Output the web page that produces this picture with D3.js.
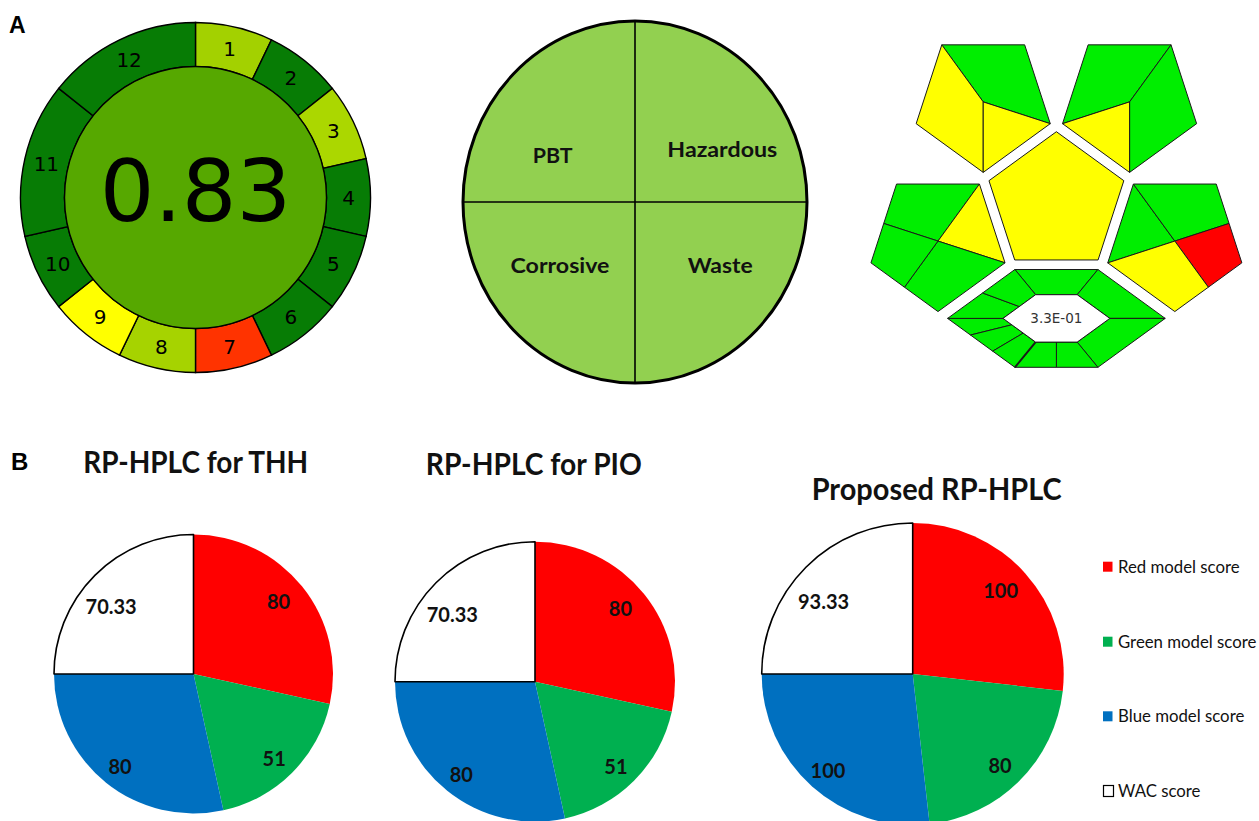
<!DOCTYPE html>
<html><head><meta charset="utf-8">
<script src="https://cdn.jsdelivr.net/npm/d3@7"></script>
<style>body{margin:0;background:#fff}svg{display:block}</style>
</head><body>
<svg id="fig" width="1259" height="821"></svg>
<script>
// ---------- AGREE pictogram ----------
const agreeCriteria = ["1","2","3","4","5","6","7","8","9","10","11","12"];
const agreeWeights  = [1,1,1,1,1,1,1,1,1,1,2,2];
const agreeColors   = ["#a3d100","#077c05","#abd700","#077c05","#077c05","#077c05",
                       "#ff3300","#a6d300","#ffff00","#077c05","#077c05","#077c05"];
const agreeScore = "0.83";
const agreeCenterColor = "#56a800";

// ---------- NEMI pictogram (quadrants: top-left, top-right, bottom-left, bottom-right) ----------
const nemiCriteria = ["PBT","Hazardous","Corrosive","Waste"];
const nemiColors   = ["#92d050","#92d050","#92d050","#92d050"];

// ---------- ComplexGAPI pictogram (g = green, y = yellow, r = red) ----------
const gapiTopLeft   = ["g","y","y"];
const gapiTopRight  = ["g","g","y"];
const gapiCenter    = ["y"];
const gapiLeft      = ["g","y","g","g"];
const gapiRight     = ["g","g","r","y"];
const gapiBottom    = ["g","g","g","g","g","g","g","g","g","g"];
const gapiScore     = "3.3E-01";
const gapiPalette   = {g:"#00ee00", y:"#ffff00", r:"#ff0000"};

// ---------- RGB model pies ----------
const methods    = ["RP-HPLC for THH","RP-HPLC for PIO","Proposed RP-HPLC"];
const redScore   = [80, 80, 100];
const greenScore = [51, 51, 80];
const blueScore  = [80, 80, 100];
const wacScore   = [70.33, 70.33, 93.33];
const legendLabels = ["Red model score","Green model score","Blue model score","WAC score"];
const pieColors    = ["#ff0000","#00b050","#0070c0","#ffffff"];

const svg = d3.select("#fig");
const rad = a => a*Math.PI/180;

// panel letters
svg.append("text").attr("x",9).attr("y",33).text("A")
  .attr("font-family","Liberation Sans, Arial, sans-serif").attr("font-weight","bold").attr("font-size",23);
svg.append("text").attr("x",11).attr("y",470).text("B")
  .attr("font-family","Liberation Sans, Arial, sans-serif").attr("font-weight","bold").attr("font-size",24);

// ---------- AGREE ----------
{
  const cx = 195.5, cy = 197.5, rIn = 131, rOut = 175;
  const g = svg.append("g").attr("transform",`translate(${cx},${cy})`);
  const pie = d3.pie().sort(null).value(d => d.w);
  const data = agreeCriteria.map((c,i) => ({c, w: agreeWeights[i], col: agreeColors[i]}));
  const arcs = pie(data);
  const arc = d3.arc().innerRadius(rIn).outerRadius(rOut);
  g.selectAll("path.seg").data(arcs).join("path").attr("class","seg")
    .attr("d", arc).attr("fill", d => d.data.col).attr("stroke","#000").attr("stroke-width",1.4);
  const lab = d3.arc().innerRadius((rIn+rOut)/2).outerRadius((rIn+rOut)/2);
  g.selectAll("text.seg").data(arcs).join("text").attr("class","seg")
    .attr("x", d => lab.centroid(d)[0]).attr("y", d => lab.centroid(d)[1])
    .attr("text-anchor","middle").attr("dy","0.36em")
    .attr("font-family","DejaVu Sans, sans-serif").attr("font-size",20)
    .text(d => d.data.c);
  g.append("circle").attr("r", rIn).attr("fill", agreeCenterColor).attr("stroke","#000").attr("stroke-width",1.4);
  g.append("text").attr("text-anchor","middle").attr("y",23)
    .attr("font-family","DejaVu Sans, sans-serif").attr("font-size",86).text(agreeScore);
}

// ---------- NEMI ----------
{
  const cx = 635, cy = 202, rx = 172, ry = 181;
  const g = svg.append("g");
  const clip = g.append("clipPath").attr("id","nemiClip");
  clip.append("ellipse").attr("cx",cx).attr("cy",cy).attr("rx",rx).attr("ry",ry);
  const quads = [[cx-rx,cy-ry],[cx,cy-ry],[cx-rx,cy],[cx,cy]];
  g.append("g").attr("clip-path","url(#nemiClip)").selectAll("rect").data(quads).join("rect")
    .attr("x",d=>d[0]).attr("y",d=>d[1]).attr("width",rx).attr("height",ry)
    .attr("fill",(d,i)=>nemiColors[i]);
  g.append("line").attr("x1",cx).attr("x2",cx).attr("y1",cy-ry).attr("y2",cy+ry).attr("stroke","#000").attr("stroke-width",1.6);
  g.append("line").attr("x1",cx-rx).attr("x2",cx+rx).attr("y1",cy).attr("y2",cy).attr("stroke","#000").attr("stroke-width",1.6);
  g.append("ellipse").attr("cx",cx).attr("cy",cy).attr("rx",rx).attr("ry",ry)
    .attr("fill","none").attr("stroke","#000").attr("stroke-width",3);
  const labelPos = [[552.7,162.7],[722.3,156.7],[560,272.7],[720.2,272.7]];
  const labelLen = [40, 110, 99, 65];
  g.selectAll("text").data(nemiCriteria).join("text")
    .attr("x",(d,i)=>labelPos[i][0]).attr("y",(d,i)=>labelPos[i][1])
    .attr("text-anchor","middle").attr("font-family","Lato, Open Sans, sans-serif")
    .attr("font-weight","bold").attr("font-size",21.5).attr("fill","#111")
    .attr("textLength",(d,i)=>labelLen[i]).attr("lengthAdjust","spacingAndGlyphs")
    .text(d=>d);
}

// ---------- ComplexGAPI ----------
{
  const C0 = [1056.4, 202.6], R = 70.9, Ro = 70.5, D = 124.5;
  const pt = (c, ang, r) => [c[0] + r*Math.sin(rad(ang)), c[1] - r*Math.cos(rad(ang))];
  const mid = (a, b) => [(a[0]+b[0])/2, (a[1]+b[1])/2];
  const lerp = (a, b, t) => [a[0]+(b[0]-a[0])*t, a[1]+(b[1]-a[1])*t];
  const line = d3.line().curve(d3.curveLinearClosed);
  const g = svg.append("g");
  const draw = (polys, codes) => polys.forEach((p,i) =>
    g.append("path").attr("d", line(p)).attr("fill", gapiPalette[codes[i]])
      .attr("stroke","#1a1a1a").attr("stroke-width",1).attr("stroke-linejoin","round"));

  // outer pentagons: flat top, vertices V0 top-left, V1 top-right, V2 right, V3 bottom, V4 left
  const outer = dir => {
    const c = pt(C0, dir, D);
    const V = [324,36,108,180,252].map(a => pt(c, a, Ro));
    return {c, V};
  };
  { const {c,V} = outer(324);
    draw([[V[0],V[1],V[2],c],[V[0],c,V[3],V[4]],[c,V[2],V[3]]], gapiTopLeft); }
  { const {c,V} = outer(36);
    draw([[V[0],V[1],c,V[4]],[V[1],V[2],V[3],c],[V[4],c,V[3]]], gapiTopRight); }
  { const {c,V} = outer(252);
    const m40 = mid(V[4],V[0]), m34 = mid(V[3],V[4]);
    draw([[V[0],V[1],c,m40],[V[1],V[2],c],[c,V[2],V[3],m34],[m40,c,m34,V[4]]], gapiLeft); }
  { const {c,V} = outer(108);
    const m12 = mid(V[1],V[2]), m23 = mid(V[2],V[3]);
    draw([[V[0],c,V[4]],[V[0],V[1],m12,c],[c,m12,V[2],m23],[V[4],c,m23,V[3]]], gapiRight); }
  // centre pentagon, point up
  draw([[0,72,144,216,288].map(a => pt(C0, a, R))], gapiCenter);

  // bottom hexagon ring
  const hc = [C0[0], C0[1] + 115.8];
  const hex = (tw, mw, hh) => [[-tw,-hh],[tw,-hh],[mw,0],[tw,hh],[-tw,hh],[-mw,0]]
    .map(p => [hc[0]+p[0], hc[1]+p[1]]);
  const [oTL,oTR,oR,oBR,oBL,oL] = hex(41.5,108.8,48.9);
  const [iTL,iTR,iR,iBR,iBL,iL] = hex(20.8,53.4,23.7);
  const oB = lerp(oBR,oBL,0.5), iB = lerp(iBR,iBL,0.5);
  const oU = lerp(oL,oTL,0.52), iU = lerp(iL,iTL,0.5);
  const o1 = lerp(oL,oBL,0.34), i1 = lerp(iL,iBL,0.27);
  const o2 = lerp(oL,oBL,0.67), i2 = lerp(iL,iBL,0.62);
  draw([
    [oTL,oTR,iTR,iTL],
    [oTR,oR,iR,iTR],
    [oR,oBR,iBR,iR],
    [oBR,oB,iB,iBR],
    [oB,oBL,iBL,iB],
    [oL,o1,i1,iL],
    [o1,o2,i2,i1],
    [o2,oBL,iBL,i2],
    [oL,oU,iU,iL],
    [oU,oTL,iTL,iU]
  ], gapiBottom);
  g.append("line").attr("x1",oBL[0]).attr("y1",oBL[1]).attr("x2",iBL[0]).attr("y2",iBL[1])
    .attr("stroke","#1a1a1a").attr("stroke-width",2);
  g.append("path").attr("d", line([iTL,iTR,iR,iBR,iBL,iL])).attr("fill","#fff")
    .attr("stroke","#1a1a1a").attr("stroke-width",1);
  g.append("text").attr("x",hc[0]).attr("y",hc[1]).attr("dy","0.36em").attr("text-anchor","middle")
    .attr("font-family","DejaVu Sans, sans-serif").attr("font-size",13.5).attr("fill","#333").text(gapiScore);
}

// ---------- RGB pies ----------
{
  const centers = [[193.5,674,139.5],[535,681.7,140],[912.7,674,151]];
  const titlePos = [[195.7,472.7],[533.8,475],[936.7,500]];
  const titleLen = [225, 216, 250];
  // label placement per slice: radius fraction and angular nudge (degrees)
  const labR = [0.80, 0.84, 0.85, 0.76];
  const labShift = [-1.5, 1.5, -0.5, -6];
  const pie = d3.pie().sort(null).value(d => d.v);
  methods.forEach((m, k) => {
    const [cx, cy, r] = centers[k];
    const vals = [redScore[k], greenScore[k], blueScore[k], wacScore[k]]
      .map((v,i) => ({v, col: pieColors[i]}));
    const arcs = pie(vals);
    const arc = d3.arc().innerRadius(0).outerRadius(r);
    const g = svg.append("g").attr("transform",`translate(${cx},${cy})`);
    g.selectAll("path").data(arcs.slice(0,3)).join("path")
      .attr("d",arc).attr("fill",d=>d.data.col);
    g.append("path").datum(arcs[3]).attr("d",arc).attr("fill",pieColors[3])
      .attr("stroke","#000").attr("stroke-width",1.6).attr("stroke-linejoin","round");
    const lp = (d,i) => {
      const a = (d.startAngle + d.endAngle)/2 + rad(labShift[i]);
      return [labR[i]*r*Math.sin(a), -labR[i]*r*Math.cos(a)];
    };
    g.selectAll("text").data(arcs).join("text")
      .attr("x",(d,i)=>lp(d,i)[0]).attr("y",(d,i)=>lp(d,i)[1]).attr("dy","0.36em")
      .attr("text-anchor","middle").attr("font-family","Lato, Open Sans, sans-serif")
      .attr("font-weight","bold").attr("font-size",20).attr("fill","#111")
      .text(d => d.data.v);
    svg.append("text").attr("x",titlePos[k][0]).attr("y",titlePos[k][1]).attr("text-anchor","middle")
      .attr("font-family","Lato, Open Sans, sans-serif").attr("font-weight","bold").attr("font-size",31)
      .attr("textLength",titleLen[k]).attr("lengthAdjust","spacingAndGlyphs")
      .attr("fill","#111").text(m);
  });

  // legend
  const lg = svg.append("g").attr("transform","translate(1103,0)");
  const rowY = [566.7,641.7,716.3,790.5];
  legendLabels.forEach((t,i) => {
    lg.append("rect").attr("x", i===3 ? 0.5 : 0).attr("y", rowY[i]-5).attr("width", i===3 ? 10 : 9.5).attr("height", i===3 ? 11 : 10)
      .attr("fill", pieColors[i]).attr("stroke", i===3 ? "#000" : "none").attr("stroke-width",1.2);
    lg.append("text").attr("x",15).attr("y",rowY[i]+6)
      .attr("font-family","Lato, Open Sans, sans-serif").attr("font-size",16.8).attr("fill","#111")
      .text(t);
  });
}
</script>
</body></html>
